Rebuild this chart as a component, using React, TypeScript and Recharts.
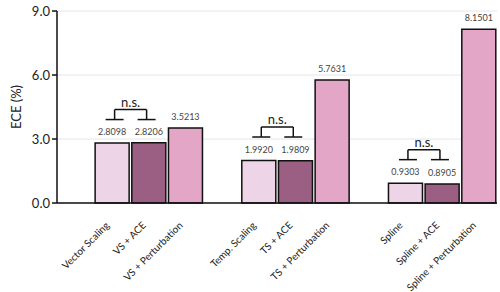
import React from 'react';
import { BarChart, Bar, XAxis, YAxis, CartesianGrid, Cell, LabelList, Label } from 'recharts';

const categories = ['', 'Vector Scaling', 'VS + ACE', 'VS + Perturbation', '', 'Temp. Scaling', 'TS + ACE', 'TS + Perturbation', '', 'Spline', 'Spline + ACE', 'Spline + Perturbation'];
const values: (number | null)[] = [null, 2.8098, 2.8206, 3.5213, null, 1.992, 1.9809, 5.7631, null, 0.9303, 0.8905, 8.1501];
const valueLabels = ['', '2.8098', '2.8206', '3.5213', '', '1.9920', '1.9809', '5.7631', '', '0.9303', '0.8905', '8.1501'];
const significance = ['', 'n.s.', '', '', '', 'n.s.', '', '', '', 'n.s.', '', ''];
const kinds = ['', 'base', 'ace', 'pert', '', 'base', 'ace', 'pert', '', 'base', 'ace', 'pert'];
const yTicks = [0, 3, 6, 9];

const colors: Record<string, string> = { base: '#EDD4E6', ace: '#9B5F83', pert: '#E3A6C7', '': '#fff' };

const data = categories.map((c, i) => ({ name: c, value: values[i], label: valueLabels[i], sig: significance[i], kind: kinds[i] }));

const FONT = 'Lato, "Open Sans", sans-serif';
const GAP_FRACTION = 0.04;

const XTick = (props: any) => {
  const { x, y, payload } = props;
  if (!payload.value) return null;
  return (
    <g transform={`translate(${x - 2},${y + 15})`}>
      <text x={0} y={0} textAnchor="end" transform="rotate(-45)" fontSize={10} fill="#222" fontFamily={FONT}>
        {payload.value}
      </text>
    </g>
  );
};

const Bracket = (props: any) => {
  const vb = props.viewBox || {};
  const x = props.x ?? vb.x;
  const y = props.y ?? vb.y;
  const width = props.width ?? vb.width;
  const value = props.value;
  if (!value) return null;
  const step = width / (1 - 2 * GAP_FRACTION);
  const cx = x + width / 2 + step / 2;
  const bottom = y - 23.5;
  const top = bottom - 10;
  const l = cx - 16;
  const r = cx + 16;
  const s = { stroke: '#111', strokeWidth: 1.5, fill: 'none' };
  return (
    <g>
      <line x1={l - 9} x2={l + 9} y1={bottom} y2={bottom} {...s} />
      <line x1={r - 9} x2={r + 9} y1={bottom} y2={bottom} {...s} />
      <line x1={l} x2={l} y1={bottom} y2={top} {...s} />
      <line x1={r} x2={r} y1={bottom} y2={top} {...s} />
      <line x1={l} x2={r} y1={top} y2={top} {...s} />
      <text x={cx} y={top - 3} textAnchor="middle" fontSize={13} fill="#222" fontFamily={FONT}>{value}</text>
    </g>
  );
};

export default function App() {
  return (
    <div style={{ position: 'absolute', left: 0, top: 0, background: '#fff' }}>
      <BarChart width={500} height={292} data={data} margin={{ top: 11, right: 3, bottom: 0, left: 0 }} barCategoryGap="4%">
        <CartesianGrid vertical={false} stroke="#e6e6e6" />
        <XAxis dataKey="name" interval={0} tickLine={false} axisLine={{ stroke: '#111', strokeWidth: 1.5 }} height={89} tick={<XTick />} />
        <YAxis
          domain={[0, 9]}
          ticks={yTicks}
          width={57}
          tickFormatter={(v: number) => v.toFixed(1)}
          axisLine={{ stroke: '#111', strokeWidth: 1.5 }}
          tickLine={{ stroke: '#111', strokeWidth: 1.5 }}
          tickSize={5}
          tick={{ fontSize: 13, fill: '#222', fontFamily: FONT }}
        >
          <Label
            content={(p: any) => {
              const vb = p.viewBox;
              const cx = vb.x + 16;
              const cy = vb.y + vb.height / 2;
              return (
                <text x={cx} y={cy} transform={`rotate(-90 ${cx} ${cy})`} textAnchor="middle" dominantBaseline="central" fontSize={13} fill="#222" fontFamily={FONT}>
                  ECE (%)
                </text>
              );
            }}
          />
        </YAxis>
        <Bar dataKey="value" isAnimationActive={false} stroke="#111" strokeWidth={1.5}>
          {data.map((d, i) => (
            <Cell key={i} fill={colors[d.kind]} />
          ))}
          <LabelList dataKey="label" position="top" offset={8} fontSize={9} fill="#444" fontFamily={FONT} />
          <LabelList dataKey="sig" content={<Bracket />} />
        </Bar>
      </BarChart>
    </div>
  );
}
